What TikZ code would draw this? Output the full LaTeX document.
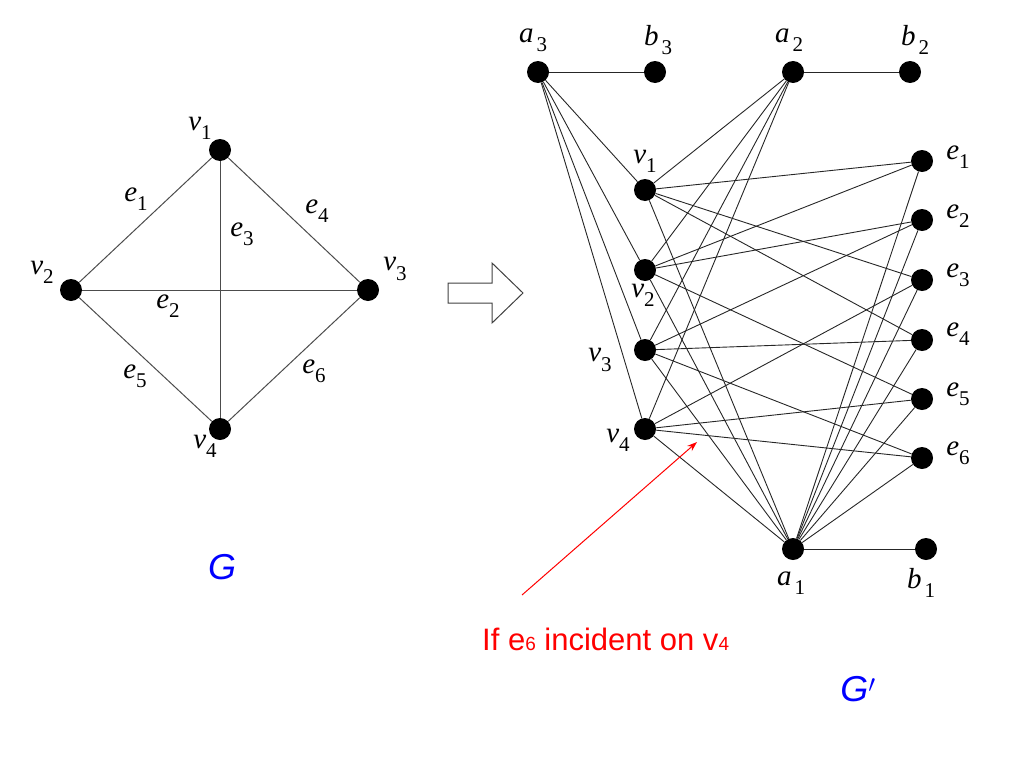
\documentclass[tikz,border=0pt]{standalone}
\usepackage{fontspec}
\newfontfamily\arialfont{Liberation Sans}
\newfontfamily\timesfont{Liberation Serif}
\usetikzlibrary{arrows.meta}
\newcommand{\lbl}[2]{\textit{#1}\raisebox{-0.32em}{\fontsize{21}{22}\selectfont #2}}
\newcommand{\lblsp}[2]{\textit{#1}\hspace{3pt}\raisebox{-0.32em}{\fontsize{21}{22}\selectfont #2}}
\begin{document}
\begin{tikzpicture}[x=1pt,y=-1pt,
  dot/.style={circle,fill=black,inner sep=0pt,minimum size=22pt},
  lab/.style={inner sep=0pt,font=\timesfont\fontsize{29}{32}\selectfont},
  gedge/.style={draw=black!70,line width=1pt},
  hedge/.style={draw=black!85,line width=0.9pt},
  bigtext/.style={inner sep=0pt,text=blue,font=\arialfont\itshape\fontsize{36}{40}\selectfont}]
\path[use as bounding box] (0,0) rectangle (1024,768);

% ---------- left graph G ----------
\node[dot] (g1) at (220,150) {};
\node[dot] (g2) at (71,290) {};
\node[dot] (g3) at (368,290) {};
\node[dot] (g4) at (220,429) {};
\draw[gedge] (g1) -- (g2);
\draw[gedge] (g1) -- (g3);
\draw[gedge] (g1) -- (g4);
\draw[gedge] (g2) -- (g3);
\draw[gedge] (g2) -- (g4);
\draw[gedge] (g3) -- (g4);
\node[lab] (lg1) at (200,128) {\lbl{v}{1}};
\node[lab] (lg2) at (42,272) {\lbl{v}{2}};
\node[lab] (lg3) at (395,269) {\lbl{v}{3}};
\node[lab] (lg4) at (205,446) {\lbl{v}{4}};
\node[lab] (le1) at (136,199) {\lbl{e}{1}};
\node[lab] (le4) at (317,211) {\lbl{e}{4}};
\node[lab] (le3) at (242,234) {\lbl{e}{3}};
\node[lab] (le2) at (168,306) {\lbl{e}{2}};
\node[lab] (le5) at (135,376) {\lbl{e}{5}};
\node[lab] (le6) at (314,371) {\lbl{e}{6}};
\node[bigtext] (G) at (222,567) {G};

% ---------- hollow arrow ----------
\draw[black!75,line width=1pt,line join=miter]
  (448,283) -- (492,283) -- (492,263) -- (523,293) -- (492,323) -- (492,303) -- (448,303) -- cycle;

% ---------- right graph G' ----------
\node[dot] (a3) at (538,72) {};
\node[dot] (b3) at (655,72) {};
\node[dot] (a2) at (793,72) {};
\node[dot] (b2) at (910,72) {};
\node[dot] (v1) at (645,190) {};
\node[dot] (v2) at (645,270) {};
\node[dot] (v3) at (645,350) {};
\node[dot] (v4) at (645,429) {};
\node[dot] (e1) at (922,161) {};
\node[dot] (e2) at (922,220) {};
\node[dot] (e3) at (922,280) {};
\node[dot] (e4) at (922,340) {};
\node[dot] (e5) at (922,399) {};
\node[dot] (e6) at (922,458) {};
\node[dot] (a1) at (793,549) {};
\node[dot] (b1) at (926,549) {};

\draw[hedge] (a3) -- (b3);
\draw[hedge] (a2) -- (b2);
\draw[hedge] (a1) -- (b1);
\foreach \v in {v1,v2,v3,v4}{
  \draw[hedge] (a3) -- (\v);
  \draw[hedge] (a2) -- (\v);
  \draw[hedge] (a1) -- (\v);
}
\foreach \e in {e1,e2,e3,e4,e5,e6}{
  \draw[hedge] (a1) -- (\e);
}
\draw[hedge] (v1) -- (e1);
\draw[hedge] (v1) -- (e3);
\draw[hedge] (v1) -- (e4);
\draw[hedge] (v2) -- (e1);
\draw[hedge] (v2) -- (e2);
\draw[hedge] (v2) -- (e5);
\draw[hedge] (v3) -- (e2);
\draw[hedge] (v3) -- (e4);
\draw[hedge] (v3) -- (e6);
\draw[hedge] (v4) -- (e3);
\draw[hedge] (v4) -- (e5);
\draw[hedge] (v4) -- (e6);

\node[lab] (la3) at (533,40) {\lblsp{a}{3}};
\node[lab] (lb3) at (658,40) {\lblsp{b}{3}};
\node[lab] (la2) at (789,40) {\lblsp{a}{2}};
\node[lab] (lb2) at (915,40) {\lblsp{b}{2}};
\node[lab] (lv1) at (645,161) {\lbl{v}{1}};
\node[lab] (lv2) at (643,295) {\lbl{v}{2}};
\node[lab] (lv3) at (600,360) {\lbl{v}{3}};
\node[lab] (lv4) at (618,440) {\lbl{v}{4}};
\node[lab] (le1r) at (958,157) {\lbl{e}{1}};
\node[lab] (le2r) at (958,216) {\lbl{e}{2}};
\node[lab] (le3r) at (958,275) {\lbl{e}{3}};
\node[lab] (le4r) at (958,334) {\lbl{e}{4}};
\node[lab] (le5r) at (958,394) {\lbl{e}{5}};
\node[lab] (le6r) at (958,453) {\lbl{e}{6}};
\node[lab] (la1) at (791,583) {\lblsp{a}{1}};
\node[lab] (lb1) at (921,583) {\lblsp{b}{1}};

% ---------- annotation ----------
\coordinate (tail) at (522,595);
\coordinate (head) at (697,442);
\draw[red,line width=1pt,-{Stealth[length=10pt,width=7pt]}] (tail) -- (head);
\node[inner sep=0pt,text=red,font=\arialfont\fontsize{31}{34}\selectfont,anchor=base west] (note) at (482,650)
  {If e{\fontsize{19}{20}\selectfont 6} incident on v{\fontsize{19}{20}\selectfont 4}};
\node[bigtext] (Gp) at (858,689) {G$'$};
\end{tikzpicture}
\end{document}
